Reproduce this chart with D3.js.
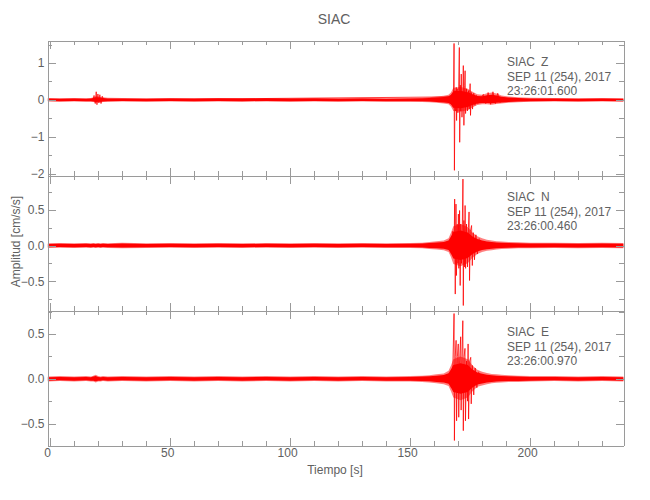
<!DOCTYPE html>
<html><head><meta charset="utf-8">
<script src="https://cdn.jsdelivr.net/npm/d3@7"></script>
<style>
body{margin:0;background:#fff}
text{font-family:"Liberation Sans",Arial,sans-serif;fill:#606060}
.ax path,.ax line{stroke:#9a9a9a;stroke-width:1;fill:none;shape-rendering:crispEdges}
</style></head><body>
<svg id="c" width="650" height="500"></svg>
<script>
// ---------- data ----------
const title = "SIAC";
const station = "SIAC";
const dateLabel = "SEP 11 (254), 2017";
const components = ["Z", "N", "E"];
const startTimes = ["23:26:01.600", "23:26:00.460", "23:26:00.970"];
const xMajorTicks = [0, 50, 100, 150, 200];
const xMinorTicks = [10, 20, 30, 40, 60, 70, 80, 90, 110, 120, 130, 140, 160, 170, 180, 190, 210, 220, 230];
const yMajorZ = [-2, -1, 0, 1];
const yMinorZ = [-1.5, -0.5, 0.5, 1.5];
const yMajorN = [-0.5, 0, 0.5];
const yMinorN = [-0.75, -0.25, 0.25, 0.75];
const yMajorE = [-0.5, 0, 0.5];
const yMinorE = [-0.25, 0.25, 0.75];

// noise envelope (time in s, upper / lower amplitude in cm/s/s)
const envT = [-1, 4, 10, 15, 17, 18, 19, 20, 21, 22, 24, 30, 40, 50, 60, 70, 80, 90, 100, 110, 120, 130, 140, 150, 155, 158, 161, 164, 166, 167, 168, 171, 174, 176, 178, 180, 182, 184, 186, 188, 191, 195, 200, 210, 220, 230, 239];
const zHi = [0.05, 0.045, 0.05, 0.045, 0.05, 0.07, 0.1, 0.09, 0.08, 0.07, 0.055, 0.05, 0.045, 0.05, 0.045, 0.05, 0.045, 0.05, 0.045, 0.05, 0.045, 0.05, 0.045, 0.05, 0.06, 0.07, 0.09, 0.11, 0.14, 0.2, 0.33, 0.35, 0.3, 0.22, 0.15, 0.14, 0.18, 0.2, 0.17, 0.12, 0.09, 0.07, 0.055, 0.05, 0.045, 0.05, 0.045];
const zLo = [-0.045, -0.05, -0.045, -0.05, -0.05, -0.06, -0.08, -0.07, -0.07, -0.06, -0.05, -0.045, -0.05, -0.045, -0.05, -0.045, -0.05, -0.045, -0.05, -0.045, -0.05, -0.045, -0.05, -0.05, -0.055, -0.065, -0.08, -0.1, -0.12, -0.18, -0.3, -0.32, -0.28, -0.2, -0.14, -0.12, -0.12, -0.13, -0.11, -0.1, -0.08, -0.065, -0.05, -0.045, -0.05, -0.045, -0.05];
const nHi = [0.03, 0.035, 0.03, 0.035, 0.03, 0.035, 0.03, 0.035, 0.03, 0.035, 0.03, 0.04, 0.03, 0.035, 0.03, 0.035, 0.03, 0.035, 0.03, 0.035, 0.03, 0.035, 0.03, 0.035, 0.04, 0.05, 0.06, 0.07, 0.1, 0.18, 0.27, 0.3, 0.26, 0.18, 0.13, 0.1, 0.08, 0.07, 0.06, 0.055, 0.05, 0.045, 0.04, 0.04, 0.035, 0.04, 0.035];
const nLo = [-0.035, -0.03, -0.035, -0.03, -0.035, -0.03, -0.035, -0.03, -0.035, -0.03, -0.035, -0.04, -0.035, -0.03, -0.035, -0.03, -0.035, -0.03, -0.035, -0.03, -0.035, -0.03, -0.035, -0.035, -0.04, -0.05, -0.055, -0.065, -0.09, -0.16, -0.26, -0.29, -0.25, -0.17, -0.12, -0.09, -0.075, -0.065, -0.055, -0.05, -0.045, -0.04, -0.04, -0.035, -0.04, -0.035, -0.04];
const eHi = [0.025, 0.03, 0.025, 0.03, 0.025, 0.035, 0.045, 0.03, 0.025, 0.03, 0.025, 0.03, 0.025, 0.03, 0.025, 0.03, 0.025, 0.03, 0.025, 0.03, 0.025, 0.03, 0.025, 0.03, 0.035, 0.04, 0.05, 0.06, 0.09, 0.15, 0.22, 0.25, 0.22, 0.15, 0.1, 0.08, 0.065, 0.055, 0.05, 0.045, 0.04, 0.035, 0.03, 0.03, 0.025, 0.03, 0.025];
const eLo = [-0.03, -0.025, -0.03, -0.025, -0.03, -0.03, -0.04, -0.03, -0.03, -0.025, -0.03, -0.025, -0.03, -0.025, -0.03, -0.025, -0.03, -0.025, -0.03, -0.025, -0.03, -0.025, -0.03, -0.03, -0.035, -0.04, -0.05, -0.06, -0.08, -0.14, -0.21, -0.24, -0.21, -0.14, -0.09, -0.075, -0.06, -0.05, -0.045, -0.04, -0.035, -0.035, -0.03, -0.025, -0.03, -0.025, -0.03];

// main arrivals and small early burst: peak-to-peak swings (time in s, amplitude in cm/s/s)
const zT = [17.8, 18.3, 18.8, 19.2, 19.5, 19.9, 20.3, 20.7, 21.2, 21.7, 22.3, 166.5, 167.2, 167.6, 168.0, 168.3, 168.45, 168.7, 169.0, 169.2, 169.35, 169.6, 169.9, 170.2, 170.5, 170.65, 170.9, 171.1, 171.3, 171.6, 172.0, 172.15, 172.4, 172.7, 172.9, 173.1, 173.5, 173.9, 174.3, 174.6, 175.0, 175.15, 175.5, 176.0, 176.5, 177.0, 177.6, 178.2, 180.5, 181.5, 182.5, 183.5, 184.5, 185.5, 186.5, 187.5];
const zV = [0.0, 0.12, -0.1, 0.22, -0.13, 0.16, -0.08, 0.14, -0.1, 0.1, 0.0, 0.08, -0.1, 0.15, -0.2, 1.53, -1.91, 0.25, -0.3, 0.34, -0.56, 0.3, -0.35, 0.25, 1.42, -1.15, 0.4, -0.3, 0.7, -0.47, 0.3, 0.93, -0.69, 0.4, 0.79, -0.37, 0.3, -0.3, 0.25, -0.25, 0.44, -0.42, 0.2, -0.25, 0.18, -0.15, 0.12, -0.1, 0.15, -0.1, 0.2, -0.12, 0.22, -0.1, 0.18, -0.08];
const nT = [166.5, 167.2, 167.8, 168.3, 168.55, 168.8, 169.1, 169.3, 169.6, 169.9, 170.1, 170.3, 170.6, 170.85, 171.1, 171.4, 171.75, 172.0, 172.15, 172.4, 172.7, 172.9, 173.1, 173.5, 173.9, 174.3, 174.55, 174.75, 175.1, 175.6, 175.9, 176.3, 176.8, 177.4, 178.0, 178.8];
const nV = [0.08, -0.12, 0.2, -0.15, 0.65, -0.68, 0.58, -0.42, 0.3, -0.25, 0.44, -0.32, 0.49, -0.56, 0.3, -0.25, 0.3, 0.93, -0.84, 0.35, -0.3, 0.56, -0.32, 0.3, -0.3, 0.25, 0.47, -0.49, 0.2, 0.28, -0.28, 0.18, -0.2, 0.15, -0.12, 0.1];
const eT = [166.5, 167.2, 167.8, 168.3, 168.45, 168.8, 169.15, 169.35, 169.7, 170.05, 170.25, 170.6, 171.05, 171.25, 171.6, 171.95, 172.15, 172.5, 172.85, 173.05, 173.5, 173.9, 174.15, 174.35, 174.8, 175.25, 175.45, 175.9, 176.5, 177.1, 177.8, 178.6];
const eV = [0.06, -0.1, 0.15, 0.73, -0.69, 0.25, 0.43, -0.47, 0.25, 0.39, -0.43, 0.2, 0.47, -0.35, 0.25, 0.65, -0.58, 0.25, 0.34, -0.47, 0.2, -0.25, 0.39, -0.45, 0.2, 0.24, -0.28, 0.15, -0.18, 0.12, -0.1, 0.08];

// ---------- layout ----------
const svg = d3.select("#c");
svg.append("rect").attr("width", 650).attr("height", 500).attr("fill", "#fff");
const x = d3.scaleLinear().domain([-1.1, 238.9]).range([47.5, 623.5]);
const font = '"Liberation Sans",Arial,sans-serif';

const panels = [
  {top: 40.5, bottom: 175.5, dom: [-2.05, 1.61], maj: yMajorZ, min: yMinorZ, fmt: d3.format("d"), hi: zHi, lo: zLo, pt: zT, pv: zV},
  {top: 175.5, bottom: 310.5, dom: [-0.91, 0.98], maj: yMajorN, min: yMinorN, fmt: d3.format(".1f"), hi: nHi, lo: nLo, pt: nT, pv: nV},
  {top: 310.5, bottom: 445.5, dom: [-0.746, 0.764], maj: yMajorE, min: yMinorE, fmt: d3.format(".1f"), hi: eHi, lo: eLo, pt: eT, pv: eV}
];

panels.forEach((p, i) => {
  const y = d3.scaleLinear().domain(p.dom).range([p.bottom, p.top]);
  const g = svg.append("g");
  const cid = "clip" + i;
  svg.append("clipPath").attr("id", cid).append("rect")
    .attr("x", x.range()[0]).attr("y", p.top).attr("width", x.range()[1] - x.range()[0]).attr("height", p.bottom - p.top);
  const env = envT.map((t, j) => ({t: t, hi: p.hi[j], lo: p.lo[j]}));
  const data = g.append("g").attr("clip-path", `url(#${cid})`);
  data.append("path").datum(env)
    .attr("d", d3.area().x(d => x(d.t)).y0(d => y(d.lo)).y1(d => y(d.hi)))
    .attr("fill", "#ff0000").attr("fill-opacity", 0.5);
  data.append("path").datum(env)
    .attr("d", d3.area().x(d => x(d.t)).y0(d => y(d.lo * 0.7)).y1(d => y(d.hi * 0.7)))
    .attr("fill", "#ff0000");
  data.append("path").datum(p.pt.map((t, j) => ({t: t, v: p.pv[j]})))
    .attr("d", d3.line().x(d => x(d.t)).y(d => y(d.v)).defined(d => true))
    .attr("fill", "none").attr("stroke", "#ff0000").attr("stroke-width", 0.9).attr("stroke-opacity", 0.85);

  const ax = (gen, tx, ty) => g.append("g").attr("class", "ax").attr("transform", `translate(${tx},${ty})`).call(gen);
  const la = ax(d3.axisLeft(y).tickValues(p.maj).tickSize(-8).tickSizeOuter(0).tickPadding(3).tickFormat(p.fmt), x.range()[0], 0);
  la.selectAll("text").attr("font-size", 12).style("font-family", font).attr("fill", "#606060");
  ax(d3.axisLeft(y).tickValues(p.min).tickSize(-4.5).tickSizeOuter(0).tickFormat(""), x.range()[0], 0);
  ax(d3.axisRight(y).tickValues(p.maj).tickSize(-8).tickSizeOuter(0).tickFormat(""), x.range()[1], 0);
  ax(d3.axisRight(y).tickValues(p.min).tickSize(-4.5).tickSizeOuter(0).tickFormat(""), x.range()[1], 0);
  ax(d3.axisTop(x).tickValues(xMajorTicks).tickSize(-8).tickSizeOuter(0).tickFormat(""), 0, p.top);
  ax(d3.axisTop(x).tickValues(xMinorTicks).tickSize(-4.5).tickSizeOuter(0).tickFormat(""), 0, p.top);
  const ba = ax(d3.axisBottom(x).tickValues(xMajorTicks).tickSize(-8).tickSizeOuter(0).tickPadding(3)
    .tickFormat(i === 2 ? d3.format("d") : ""), 0, p.bottom);
  ba.selectAll("text").attr("font-size", 12).attr("dx", -3).style("font-family", font).attr("fill", "#606060");
  ax(d3.axisBottom(x).tickValues(xMinorTicks).tickSize(-4.5).tickSizeOuter(0).tickFormat(""), 0, p.bottom);

  const ann = g.append("g").attr("font-size", 12);
  ann.append("text").attr("x", 507).attr("y", p.top + 25.5).text(station);
  ann.append("text").attr("x", 541).attr("y", p.top + 25.5).text(components[i]);
  ann.append("text").attr("x", 507).attr("y", p.top + 40).text(dateLabel);
  ann.append("text").attr("x", 507).attr("y", p.top + 54.5).text(startTimes[i]);
});

svg.append("text").attr("x", 334).attr("y", 23.5).attr("text-anchor", "middle").attr("font-size", 14).text(title);
svg.append("text").attr("x", 335).attr("y", 474).attr("text-anchor", "middle").attr("font-size", 12).text("Tiempo [s]");
svg.append("text").attr("transform", "translate(19.5,241.5) rotate(-90)").attr("text-anchor", "middle").attr("font-size", 12).text("Amplitud [cm/s/s]");
</script></body></html>
